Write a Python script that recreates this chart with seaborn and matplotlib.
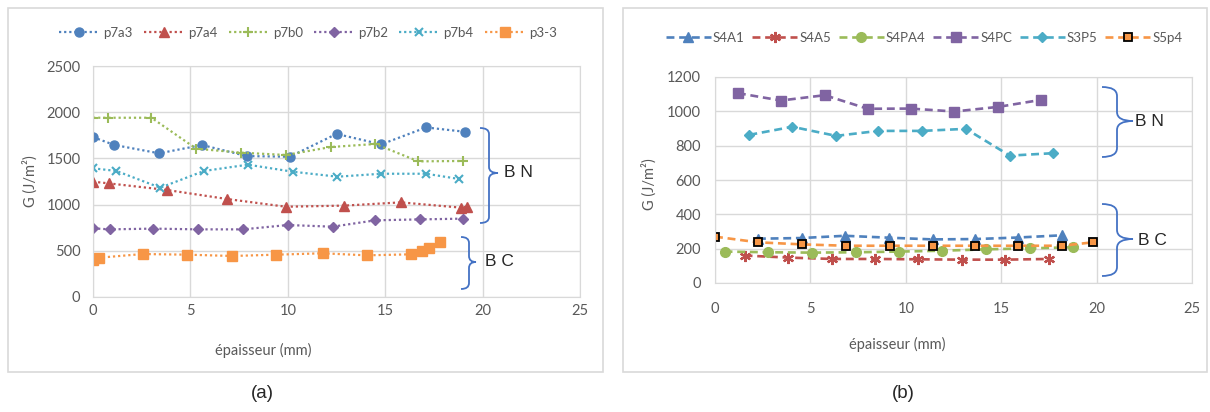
import numpy as np
import matplotlib
matplotlib.use("Agg")
import matplotlib.pyplot as plt
import seaborn as sns
from matplotlib.patches import Rectangle, PathPatch
from matplotlib.path import Path

# ---- data ----
# (a) dotted series
x_p7a3 = [0, 1.1, 3.4, 5.6, 7.9, 10.1, 12.5, 14.8, 17.1, 19.1]
g_p7a3 = [1730, 1645, 1555, 1645, 1525, 1518, 1765, 1652, 1835, 1788]
x_p7a4 = [0, 0.8, 3.8, 6.9, 9.9, 12.9, 15.8, 18.9, 19.2]
g_p7a4 = [1248, 1230, 1158, 1060, 977, 989, 1024, 967, 977]
x_p7b0 = [0, 0.75, 3.0, 5.3, 7.6, 9.9, 12.2, 14.5, 16.7, 19.0]
g_p7b0 = [1940, 1940, 1940, 1605, 1562, 1537, 1623, 1656, 1468, 1472]
x_p7b2 = [0, 0.85, 3.1, 5.4, 7.7, 10.0, 12.3, 14.5, 16.8, 19.0]
g_p7b2 = [743, 732, 740, 732, 732, 779, 761, 830, 840, 848]
x_p7b4 = [0, 1.2, 3.45, 5.7, 7.95, 10.25, 12.55, 14.8, 17.1, 18.8]
g_p7b4 = [1393, 1364, 1183, 1364, 1432, 1356, 1302, 1334, 1334, 1277]
x_p33 = [0, 0.3, 2.55, 4.85, 7.15, 9.4, 11.8, 14.05, 16.35, 16.9, 17.25, 17.8]
g_p33 = [400, 425, 465, 458, 444, 458, 473, 451, 462, 501, 527, 595]

# (b) dashed series
x_S4A1 = [2.25, 4.55, 6.8, 9.1, 11.4, 13.65, 15.9, 18.2]
g_S4A1 = [258, 262, 275, 264, 254, 256, 265, 278]
x_S4A5 = [1.55, 3.85, 6.15, 8.4, 10.65, 12.95, 15.2, 17.5]
g_S4A5 = [160, 148, 140, 140, 138, 136, 136, 140]
x_S4PA4 = [0.5, 2.8, 5.1, 7.4, 9.65, 11.9, 14.2, 16.5, 18.75]
g_S4PA4 = [183, 179, 177, 179, 183, 188, 196, 202, 208]
x_S4PC = [1.2, 3.45, 5.75, 8.0, 10.25, 12.55, 14.85, 17.1]
g_S4PC = [1106, 1063, 1094, 1015, 1016, 999, 1026, 1067]
x_S3P5 = [1.8, 4.05, 6.35, 8.55, 10.85, 13.15, 15.45, 17.7]
g_S3P5 = [863, 910, 857, 886, 886, 898, 742, 756]
x_S5p4 = [0.0, 2.25, 4.55, 6.85, 9.15, 11.4, 13.65, 15.9, 18.2, 19.8]
g_S5p4 = [270, 237, 225, 217, 217, 217, 217, 217, 217, 237]

x_ticks = [0, 5, 10, 15, 20, 25]
y_ticks_a = [0, 500, 1000, 1500, 2000, 2500]
y_ticks_b = [0, 200, 400, 600, 800, 1000, 1200]

BLUE, RED, GREEN = "#4F81BD", "#C0504D", "#9BBB59"
PURPLE, CYAN, ORANGE = "#8064A2", "#4BACC6", "#F79646"
GRID = "#D9D9D9"
TXT = "#595959"

sns.set_style("white")
plt.rcParams['font.family'] = ['Lato', 'DejaVu Sans']

W, H = 1210, 412
fig = plt.figure(figsize=(W / 100, H / 100), dpi=100)


def px_axes(x0, y0, x1, y1):
    return fig.add_axes([x0 / W, 1 - y1 / H, (x1 - x0) / W, (y1 - y0) / H])


def frame(x0, y0, x1, y1):
    fig.add_artist(Rectangle((x0 / W, 1 - y1 / H), (x1 - x0) / W, (y1 - y0) / H,
                             transform=fig.transFigure, fill=False, ec=GRID, lw=1.2))


def brace(x0, xm, x1, yt, ym, yb, r=7):
    # curly brace drawn in figure pixel coordinates (y from top)
    pts = [(x0, yt), (xm, yt), (xm, yt + r),
           (xm, ym - r), (xm, ym), (x1, ym),
           (xm, ym), (xm, ym + r),
           (xm, yb - r), (xm, yb), (x0, yb)]
    codes = [Path.MOVETO, Path.CURVE3, Path.CURVE3,
             Path.LINETO, Path.CURVE3, Path.CURVE3,
             Path.CURVE3, Path.CURVE3,
             Path.LINETO, Path.CURVE3, Path.CURVE3]
    pts = [(x / W, 1 - y / H) for x, y in pts]
    fig.add_artist(PathPatch(Path(pts, codes), transform=fig.transFigure,
                             fill=False, ec="#4472C4", lw=1.3))


def style_axes(ax, yticks, ypad, xpad):
    ax.set_xlim(0, 25)
    ax.set_ylim(yticks[0], yticks[-1])
    ax.set_xticks(x_ticks)
    ax.set_yticks(yticks)
    ax.grid(True, color=GRID, lw=1)
    ax.set_axisbelow(True)
    for s in ax.spines.values():
        s.set_color(GRID)
    ax.tick_params(axis='y', length=0, pad=ypad, labelsize=10.5, labelcolor=TXT)
    ax.tick_params(axis='x', length=0, pad=xpad, labelsize=10.5, labelcolor=TXT)


frame(8, 8, 603, 372)
frame(623, 8, 1207, 372)

# ---- (a) ----
ax1 = px_axes(93, 66, 580, 297)
dot = (0, (1, 1.3))
series_a = [
    ("p7a3", x_p7a3, g_p7a3, BLUE, "o", 6.5, 1),
    ("p7a4", x_p7a4, g_p7a4, RED, "^", 7, 1),
    ("p7b0", x_p7b0, g_p7b0, GREEN, "+", 7.5, 1.5),
    ("p7b2", x_p7b2, g_p7b2, PURPLE, "D", 5, 1),
    ("p7b4", x_p7b4, g_p7b4, CYAN, "x", 6, 1.5),
    ("p3-3", x_p33, g_p33, ORANGE, "s", 7, 1),
]
for name, xs, ys, c, m, ms, mew in series_a:
    sns.lineplot(x=xs, y=ys, ax=ax1, color=c, marker=m, markersize=ms,
                 markeredgecolor=c, markerfacecolor=c, markeredgewidth=mew,
                 linestyle=dot, linewidth=1.6, label=name, sort=False)
style_axes(ax1, y_ticks_a, 9, 5)
ax1.set_xlabel("épaisseur (mm)", fontsize=10.5, color=TXT)
ax1.set_ylabel("G (J/m²)", fontsize=10.5, color=TXT)
ax1.xaxis.set_label_coords(0.349, -0.199)
ax1.yaxis.set_label_coords(-0.113, 0.502)
ax1.legend(loc="center", bbox_to_anchor=(308 / W, 1 - 33 / H), bbox_transform=fig.transFigure,
           ncol=6, frameon=False, fontsize=9.5, handlelength=3.0, handletextpad=0.35,
           columnspacing=0.85, labelcolor=TXT)

# ---- (b) ----
ax2 = px_axes(715, 77, 1192, 283)
dash = (0, (3, 1.8))
series_b = [
    ("S4A1", x_S4A1, g_S4A1, BLUE, "^", 7, 1, BLUE),
    ("S4A5", x_S4A5, g_S4A5, RED, (6, 2, 0), 8, 1.6, RED),
    ("S4PA4", x_S4PA4, g_S4PA4, GREEN, "o", 7, 1, GREEN),
    ("S4PC", x_S4PC, g_S4PC, PURPLE, "s", 7, 1, PURPLE),
    ("S3P5", x_S3P5, g_S3P5, CYAN, "D", 5.5, 1, CYAN),
    ("S5p4", x_S5p4, g_S5p4, ORANGE, "s", 5.5, 1.3, "black"),
]
for name, xs, ys, c, m, ms, mew, mec in series_b:
    sns.lineplot(x=xs, y=ys, ax=ax2, color=c, marker=m, markersize=ms,
                 markeredgecolor=mec, markerfacecolor=c, markeredgewidth=mew,
                 linestyle=dash, linewidth=1.9, label=name, sort=False)
style_axes(ax2, y_ticks_b, 10, 14)
ax2.set_xlabel("épaisseur (mm)", fontsize=10.5, color=TXT)
ax2.set_ylabel("G (J/m²)", fontsize=10.5, color=TXT)
ax2.xaxis.set_label_coords(0.382, -0.262)
ax2.yaxis.set_label_coords(-0.122, 0.48)
ax2.legend(loc="center", bbox_to_anchor=(924 / W, 1 - 38 / H), bbox_transform=fig.transFigure,
           ncol=6, frameon=False, fontsize=9.5, handlelength=3.4, handletextpad=0.15,
           columnspacing=0.6, labelcolor=TXT)

# ---- braces and group labels ----
brace(480, 489, 498, 128, 173, 223, r=6)
brace(461, 469, 476, 237, 262, 289, r=6)
brace(1102, 1117, 1133, 87, 121, 157, r=9)
brace(1102, 1117, 1133, 204, 239, 276, r=9)
lab = dict(fontsize=12.5, family=['Liberation Sans', 'DejaVu Sans'], va="center", ha="left")
fig.text(504 / W, 1 - 173 / H, "B N", **lab)
fig.text(485 / W, 1 - 261 / H, "B C", **lab)
fig.text(1135 / W, 1 - 121 / H, "B N", **lab)
fig.text(1138 / W, 1 - 241 / H, "B C", **lab)

cap = dict(fontsize=13.5, family=['Liberation Sans', 'DejaVu Sans'], va="center", ha="center")
fig.text(262 / W, 1 - 394 / H, "(a)", **cap)
fig.text(903 / W, 1 - 394 / H, "(b)", **cap)

fig.savefig("out.png", dpi=100)
